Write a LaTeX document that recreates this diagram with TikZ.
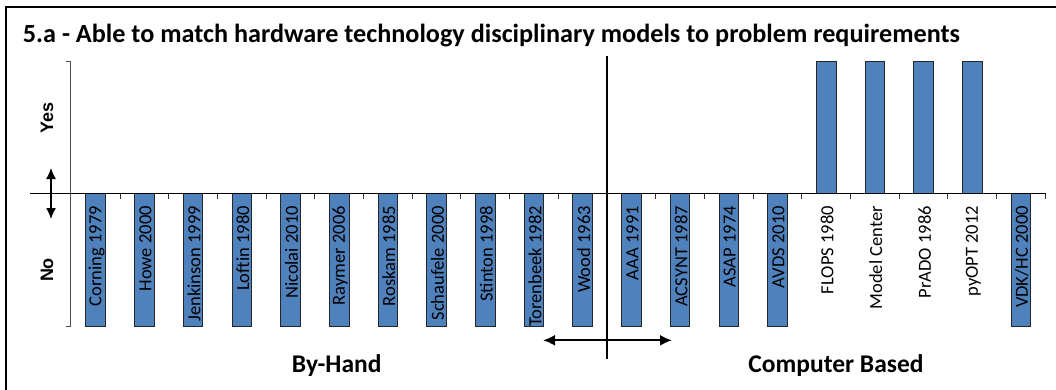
\documentclass[tikz,border=0pt]{standalone}
\usepackage{fontspec}
\setmainfont{Carlito}
\newfontfamily\arialfont{Liberation Sans}
\usetikzlibrary{arrows.meta}
\definecolor{barblue}{HTML}{4F81BD}
\begin{document}
\begin{tikzpicture}[x=1pt,y=-1pt,
  bar/.style={fill=barblue,draw=black!85,line width=0.9pt},
  catlabel/.style={rotate=90,anchor=east,font=\fontsize{18.5}{20}\selectfont,inner sep=0pt},
  grplabel/.style={anchor=base,font=\fontsize{25.5}{28}\selectfont\bfseries,inner sep=0pt},
  axlabel/.style={rotate=90,font=\arialfont\fontsize{18}{20}\selectfont\bfseries,inner sep=0pt},
  tick/.style={line width=0.9pt,draw=black!80},
  bigarrow/.style={{Latex[length=12pt,width=11pt]}-{Latex[length=12pt,width=11pt]},line width=2pt},
  smallarrow/.style={{Latex[length=11pt,width=10pt]}-{Latex[length=11pt,width=10pt]},line width=1.5pt}]
\useasboundingbox (0,0) rectangle (1056,390);
\begin{scope}
\clip (0,0) rectangle (1056,390);
\draw[line width=2pt] (6,400) -- (6,7) -- (1070,7);
\end{scope}
\node[anchor=base west,font=\fontsize{26.2}{28}\selectfont\bfseries,inner sep=0pt] (title) at (22.7,42.3)
  {5.a - Able to match hardware technology disciplinary models to problem requirements};
% bars
\foreach \i in {0,...,14,19}
  \draw[bar] ({71.3+48.7*(\i+0.5)-9.8},193.7) rectangle ({71.3+48.7*(\i+0.5)+9.8},326);
\foreach \i in {15,...,18}
  \draw[bar] ({71.3+48.7*(\i+0.5)-9.8},61) rectangle ({71.3+48.7*(\i+0.5)+9.8},193.7);
% axes
\draw[line width=0.9pt,draw=black!70] (65.7,61.7) -- (70.7,61.7) -- (70.7,326) -- (65.7,326);
\draw[line width=1.5pt] (30,193.7) -- (1045.7,193.7);
\foreach \k in {1,...,20}
  \draw[tick] ({71.3+48.7*\k},193.7) -- ++(0,5.5);
% category labels
\foreach \lab [count=\i from 0] in {Corning 1979,Howe 2000,Jenkinson 1999,Loftin 1980,Nicolai 2010,Raymer 2006,Roskam 1985,Schaufele 2000,Stinton 1998,Torenbeek 1982,Wood 1963,AAA 1991,ACSYNT 1987,ASAP 1974,AVDS 2010,FLOPS 1980,Model Center,PrADO 1986,pyOPT 2012,VDK/HC 2000}
  \node[catlabel] (cat\i) at ({71.3+48.7*(\i+0.5)+1},206) {\lab};
% axis labels
\node[axlabel] (yes) at (47,118) {Yes};
\node[axlabel] (no) at (47,270) {No};
\coordinate (ua) at (51,168);
\coordinate (ub) at (51,219);
\draw[smallarrow] (ua) -- (ub);
% divider
\coordinate (dtop) at (607,56);
\coordinate (dbot) at (607,359);
\draw[line width=1.5pt] (dtop) -- (dbot);
\coordinate (al) at (543,340.3);
\coordinate (ar) at (672,340.3);
\draw[bigarrow] (al) -- (ar);
% group labels
\node[grplabel] (byhand) at (336.7,372) {By-Hand};
\node[grplabel] (comp) at (836,372) {Computer Based};
\end{tikzpicture}
\end{document}
